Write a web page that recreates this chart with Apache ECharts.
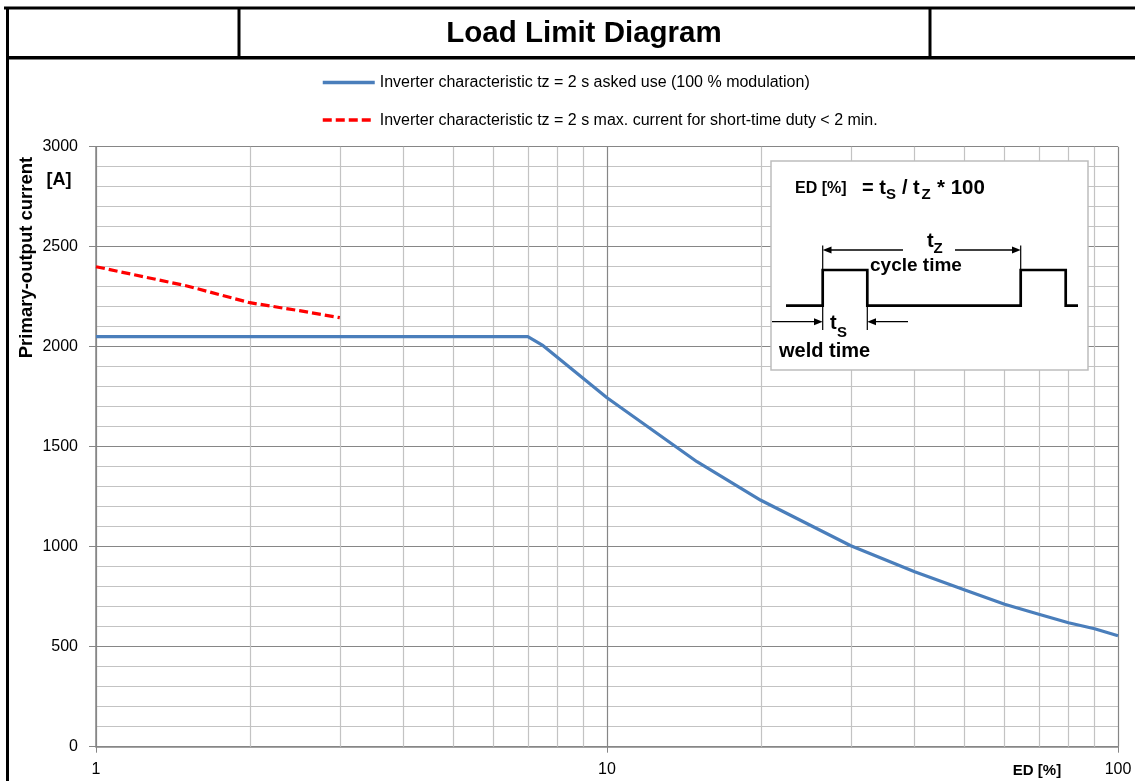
<!DOCTYPE html>
<html>
<head>
<meta charset="utf-8">
<title>Load Limit Diagram</title>
<script src="https://cdn.jsdelivr.net/npm/echarts@6/dist/echarts.min.js"></script>
<style>
  html, body { margin: 0; padding: 0; background: #ffffff; }
  #chart { width: 1135px; height: 781px; }
</style>
</head>
<body>
<div id="chart"></div>
<script>
// Duty cycle ED [%] vs. primary output current [A]
const edContinuous = [1, 7, 7.5, 10, 15, 20, 30, 40, 50, 60, 70, 80, 90, 100];
const currentContinuous = [2050, 2050, 2005, 1745, 1425, 1232, 1005, 875, 785, 712, 662, 620, 590, 555];

const edShortTime = [1, 1.5, 2, 2.5, 3];
const currentShortTime = [2400, 2305, 2220, 2180, 2145];

const seriesNames = [
  'Inverter characteristic tz = 2 s asked use (100 % modulation)',
  'Inverter characteristic tz = 2 s max. current for short-time duty < 2 min.'
];

// intermediate decade lines of the logarithmic ED axis
const edMinorGrid = [2, 3, 4, 5, 6, 7, 8, 9, 20, 30, 40, 50, 60, 70, 80, 90];

const yMin = 0, yMax = 3000, yMajor = 500, yMinor = 100;

const pairs = (xs, ys) => xs.map((x, i) => [x, ys[i]]);

const ARIAL = "'Liberation Sans', Arial, sans-serif";
const GRID_MAJOR = '#868686';
const GRID_MINOR = '#c3c3c3';

function txt(text, x, y, size, opts) {
  opts = opts || {};
  return {
    type: 'text', z: 20, x: x, y: y, rotation: opts.rotation || 0,
    style: {
      text: text, x: 0, y: 0,
      font: (opts.bold === false ? '' : 'bold ') + size + 'px ' + ARIAL,
      fill: '#000', align: opts.align || 'left', verticalAlign: 'middle'
    }
  };
}
function seg(x1, y1, x2, y2, w) {
  return { type: 'line', z: 20, shape: { x1: x1, y1: y1, x2: x2, y2: y2 },
           style: { stroke: '#000', lineWidth: w } };
}
function tri(points) {
  return { type: 'polygon', z: 20, shape: { points: points }, style: { fill: '#000' } };
}

const frame = [
  seg(4, 8, 1135, 8, 3),
  seg(7.5, 7, 7.5, 781, 3),
  seg(6, 57.7, 1135, 57.7, 3.4),
  seg(239, 8, 239, 57.7, 3),
  seg(930, 8, 930, 57.7, 3),
  txt('Load Limit Diagram', 584, 33.5, 29.5, { align: 'center' })
];

const axisTexts = [
  txt('Primary-output current', 26.5, 257.5, 18.5, { align: 'center', rotation: Math.PI / 2 }),
  txt('[A]', 59, 180.5, 18, { align: 'center' }),
  txt('ED [%]', 1037, 770.5, 15, { align: 'center' })
];

// explanatory inset: ED definition and pulse timing sketch
const yLow = 305.7, yHigh = 270;
const inset = [
  { type: 'rect', z: 15, shape: { x: 771, y: 161, width: 317, height: 209 },
    style: { fill: '#ffffff', stroke: '#bdbdbd', lineWidth: 1.5 } },
  txt('ED [%]', 795, 188.7, 16),
  txt('= t', 862, 188, 20),
  txt('S', 886, 194.8, 15),
  txt('/ t', 902, 188, 20),
  txt('Z', 921.5, 194.8, 15),
  txt('* 100', 937, 188, 20.5),
  { type: 'polyline', z: 20,
    shape: { points: [[786, yLow], [822.7, yLow], [822.7, yHigh], [867.3, yHigh], [867.3, yLow],
                      [1020.7, yLow], [1020.7, yHigh], [1065.7, yHigh], [1065.7, yLow], [1078, yLow]] },
    style: { stroke: '#000', lineWidth: 2.7, fill: null } },
  seg(822.7, 245.5, 822.7, 330, 1.2),
  seg(1020.7, 245.5, 1020.7, yHigh, 1.2),
  seg(867.3, yLow, 867.3, 330, 1.2),
  seg(830, 250, 903, 250, 1.3),
  tri([[822.7, 250], [831.5, 246.5], [831.5, 253.5]]),
  seg(955, 250, 1013, 250, 1.3),
  tri([[1020.7, 250], [1012, 246.5], [1012, 253.5]]),
  txt('t', 927, 241, 20),
  txt('Z', 933.5, 249, 15),
  txt('cycle time', 870, 265.8, 19),
  seg(772, 321.7, 815, 321.7, 1.3),
  tri([[822.7, 321.7], [814, 318.2], [814, 325.2]]),
  seg(875, 321.7, 908, 321.7, 1.3),
  tri([[867.3, 321.7], [876, 318.2], [876, 325.2]]),
  txt('t', 830, 323, 20),
  txt('S', 837, 332.4, 15),
  txt('weld time', 779, 351.3, 20)
];

const option = {
  backgroundColor: '#ffffff',
  animation: false,
  grid: { left: 96, right: 17, top: 146.7, bottom: 34.3, containLabel: false },
  legend: {
    orient: 'vertical',
    left: 321, top: 74.5, padding: 0,
    itemWidth: 52, itemHeight: 16, itemGap: 21.6,
    selectedMode: false,
    itemStyle: { opacity: 0 },
    lineStyle: { width: 3.5 },
    textStyle: { fontFamily: ARIAL, fontSize: 16, color: '#000', lineHeight: 16 },
    data: seriesNames
  },
  xAxis: {
    type: 'log', logBase: 10, min: 1, max: 100,
    axisLine: { show: true, lineStyle: { color: GRID_MAJOR, width: 1.5 } },
    axisTick: { show: true, length: 6, lineStyle: { color: GRID_MAJOR } },
    axisLabel: { fontFamily: ARIAL, fontSize: 16, color: '#000', margin: 15 },
    splitLine: { show: true, lineStyle: { color: GRID_MAJOR, width: 1.2 } },
    minorTick: { show: false }, minorSplitLine: { show: false }
  },
  yAxis: [
    {
      type: 'value', min: yMin, max: yMax, interval: yMinor,
      axisLine: { show: false }, axisTick: { show: false }, axisLabel: { show: false },
      splitLine: { show: true, lineStyle: { color: GRID_MINOR, width: 1.2 } }
    },
    {
      type: 'value', min: yMin, max: yMax, interval: yMajor, position: 'left', z: 1,
      axisLine: { show: true, lineStyle: { color: GRID_MAJOR, width: 1.5 } },
      axisTick: { show: true, length: 7, lineStyle: { color: GRID_MAJOR } },
      axisLabel: { fontFamily: ARIAL, fontSize: 16, color: '#000', margin: 18,
                   formatter: v => String(v) },
      splitLine: { show: true, lineStyle: { color: GRID_MAJOR, width: 1.2 } }
    }
  ],
  series: [
    {
      // lighter vertical lines between decades
      name: 'grid', type: 'line', data: [], z: 1, silent: true,
      markLine: {
        silent: true, symbol: ['none', 'none'], animation: false,
        label: { show: false },
        lineStyle: { color: GRID_MINOR, width: 1.2, type: 'solid' },
        emphasis: { disabled: true },
        data: edMinorGrid.map(v => ({ xAxis: v }))
      }
    },
    {
      name: seriesNames[0], type: 'line', yAxisIndex: 0, z: 5,
      data: pairs(edContinuous, currentContinuous),
      symbol: 'none', smooth: false,
      lineStyle: { color: '#4a7ebb', width: 3.2 },
      itemStyle: { color: '#4a7ebb' }
    },
    {
      name: seriesNames[1], type: 'line', yAxisIndex: 0, z: 5,
      data: pairs(edShortTime, currentShortTime),
      symbol: 'none', smooth: false,
      lineStyle: { color: '#ff0000', width: 3.2, type: [9, 4] },
      itemStyle: { color: '#ff0000' }
    }
  ],
  graphic: frame.concat(axisTexts, inset)
};

const chart = echarts.init(document.getElementById('chart'), null, { renderer: 'canvas' });
chart.setOption(option);
</script>
</body>
</html>
